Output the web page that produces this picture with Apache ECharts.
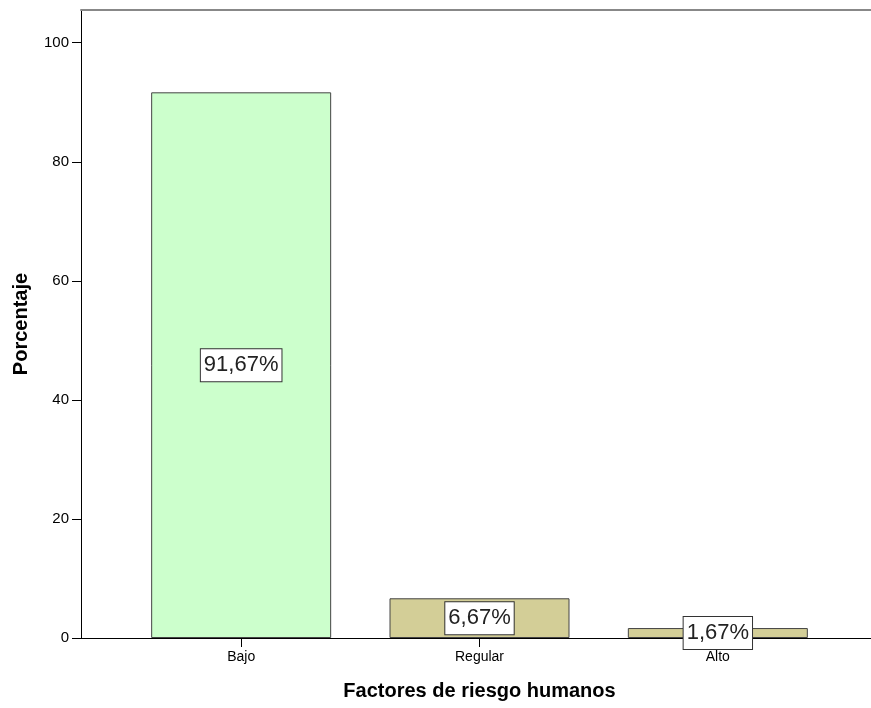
<!DOCTYPE html>
<html>
<head>
<meta charset="utf-8">
<script src="https://cdn.jsdelivr.net/npm/echarts@6/dist/echarts.min.js"></script>
<style>
  html, body { margin: 0; padding: 0; background: #fff; }
  #chart { width: 871px; height: 708px; }
</style>
</head>
<body>
<div id="chart"></div>
<script>
// Factores de riesgo humanos (porcentaje)
const categories = ['Bajo', 'Regular', 'Alto']
const values = [91.67, 6.67, 1.67]
const barColors = ['#ccffcc', '#d3ce97', '#d3ce97']
const yTicks = [0, 20, 40, 60, 80, 100]

const chart = echarts.init(document.getElementById('chart'))

const font = 'Liberation Sans, Arial, sans-serif'

chart.setOption({
  animation: false,
  grid: [
    // frame + y axis
    { left: 81, right: 0, top: 10, bottom: 70 },
    // bars
    { left: 122, right: 34, top: 10, bottom: 70 },
  ],
  xAxis: [
    {
      gridIndex: 0,
      type: 'value',
      min: 0,
      max: 1,
      axisLine: { show: true, onZero: false, lineStyle: { color: '#000', width: 1 } },
      axisTick: { show: false },
      axisLabel: { show: false },
      splitLine: { show: false },
    },
    {
      gridIndex: 1,
      type: 'category',
      data: categories,
      axisLine: { show: false },
      axisTick: { show: true, alignWithLabel: true, length: 9, lineStyle: { color: '#000' } },
      axisLabel: { color: '#000', fontSize: 14, fontFamily: font, margin: 12 },
      name: 'Factores de riesgo humanos',
      nameLocation: 'middle',
      nameGap: 43,
      nameTextStyle: { color: '#000', fontSize: 20, fontWeight: 'bold', fontFamily: font },
    },
    {
      // top frame line
      gridIndex: 0,
      type: 'value',
      position: 'top',
      min: 0,
      max: 1,
      axisLine: { show: true, onZero: false, lineStyle: { color: '#888', width: 2 } },
      axisTick: { show: false },
      axisLabel: { show: false },
      splitLine: { show: false },
    },
  ],
  yAxis: [
    {
      gridIndex: 0,
      type: 'value',
      min: 0,
      max: 105.5,
      axisLine: { show: true, lineStyle: { color: '#000', width: 1 } },
      axisTick: { show: true, length: 9, customValues: yTicks, lineStyle: { color: '#000' } },
      axisLabel: { color: '#000', fontSize: 15, fontFamily: font, margin: 12, customValues: yTicks },
      splitLine: { show: false },
      name: 'Porcentaje',
      nameLocation: 'middle',
      nameGap: 50,
      nameTextStyle: { color: '#000', fontSize: 20, fontWeight: 'bold', fontFamily: font },
    },
    {
      gridIndex: 1,
      type: 'value',
      min: 0,
      max: 105.5,
      show: false,
    },
  ],
  series: [
    {
      type: 'bar',
      xAxisIndex: 1,
      yAxisIndex: 1,
      barWidth: 180,
      data: values.map((v, i) => ({
        value: v,
        itemStyle: { color: barColors[i] },
      })),
      itemStyle: { borderColor: '#444', borderWidth: 1 },
      label: {
        show: true,
        position: 'inside',
        formatter: (p) => p.value.toFixed(2).replace('.', ',') + '%',
        color: '#222',
        fontSize: 22,
        fontFamily: font,
        backgroundColor: '#fff',
        borderColor: '#333',
        borderWidth: 1,
        padding: [6, 3, 4, 3],
      },
    },
  ],
})
</script>
</body>
</html>
